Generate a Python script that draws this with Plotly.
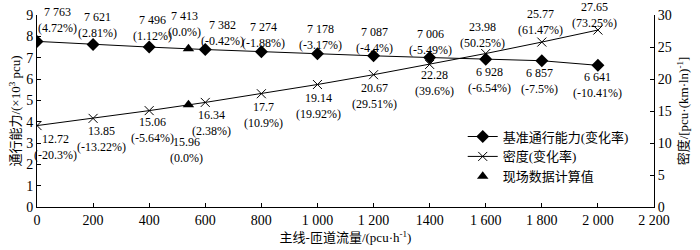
import plotly.graph_objects as go

# ---- data ----
flow = [0, 200, 400, 600, 800, 1000, 1200, 1400, 1600, 1800, 2000]
capacity = [7763, 7621, 7496, 7382, 7274, 7178, 7087, 7006, 6928, 6857, 6641]
capacity_chg = ["4.72%", "2.81%", "1.12%", "-0.42%", "-1.88%", "-3.17%", "-4.4%",
                "-5.49%", "-6.54%", "-7.5%", "-10.41%"]
capacity_txt = ["7 763", "7 621", "7 496", "7 382", "7 274", "7 178", "7 087",
                "7 006", "6 928", "6 857", "6 641"]
density = [12.72, 13.85, 15.06, 16.34, 17.7, 19.14, 20.67, 22.28, 23.98, 25.77, 27.65]
density_chg = ["-20.3%", "-13.22%", "-5.64%", "2.38%", "10.9%", "19.92%", "29.51%",
               "39.6%", "50.25%", "61.47%", "73.25%"]
field_flow = [540]
field_capacity = [7413]
field_capacity_txt = ["7 413"]
field_density = [15.96]
field_chg = ["0.0%"]

x_tickvals = [0, 200, 400, 600, 800, 1000, 1200, 1400, 1600, 1800, 2000, 2200]
x_ticktext = ["0", "200", "400", "600", "800", "1 000", "1 200", "1400", "1 600",
              "1 800", "2 000", "2 200"]

FONT = "Liberation Serif, Times New Roman, Noto Sans CJK SC, serif"
cap_k = [c / 1000 for c in capacity]

fig = go.Figure()
fig.add_trace(go.Scatter(
    x=flow, y=cap_k, mode="lines+markers", name="基准通行能力(变化率)",
    line=dict(color="black", width=1),
    marker=dict(symbol="diamond", size=10, color="black"),
))
fig.add_trace(go.Scatter(
    x=flow, y=density, mode="lines+markers", name="密度(变化率)", yaxis="y2",
    line=dict(color="black", width=1),
    marker=dict(symbol="x-thin", size=9, color="black", line=dict(width=1, color="black")),
))
fig.add_trace(go.Scatter(
    x=field_flow, y=[c / 1000 for c in field_capacity], mode="markers", name="现场数据计算值",
    marker=dict(symbol="triangle-up", size=10, color="black"),
))
fig.add_trace(go.Scatter(
    x=field_flow, y=field_density, mode="markers", yaxis="y2", showlegend=False,
    marker=dict(symbol="triangle-up", size=10, color="black"),
))

ann_font = dict(family=FONT, size=12, color="black")
cap_pos = [(20, 21), (4, 19), (3, 19), (17, 17), (2, 17), (3, 17), (1, 16),
           (1, 16), (4, -21), (-2, -20), (0, -20)]
for i, (xs, ys) in enumerate(cap_pos):
    fig.add_annotation(x=flow[i], y=cap_k[i], xref="x", yref="y",
                       text=f"{capacity_txt[i]}<br>({capacity_chg[i]})",
                       showarrow=False, font=ann_font, xshift=xs, yshift=ys,
                       align="center")
den_pos = [(18, -21), (8, -21), (3, -19), (6, -21), (2, -21), (1, -21), (1, -21),
           (5, -19), (-3, 19), (-1, 20), (-3, 15)]
for i, (xs, ys) in enumerate(den_pos):
    fig.add_annotation(x=flow[i], y=density[i], xref="x", yref="y2",
                       text=f"{density[i]}<br>({density_chg[i]})",
                       showarrow=False, font=ann_font, xshift=xs, yshift=ys,
                       align="center")
fig.add_annotation(x=field_flow[0], y=field_capacity[0] / 1000, xref="x", yref="y",
                   text=f"{field_capacity_txt[0]}<br>({field_chg[0]})", showarrow=False,
                   font=ann_font, xshift=-4, yshift=25)
fig.add_annotation(x=field_flow[0], y=field_density[0], xref="x", yref="y2",
                   text=f"{field_density[0]}<br>({field_chg[0]})", showarrow=False,
                   font=ann_font, xshift=-2, yshift=-45)

axis_common = dict(showline=True, linecolor="black", linewidth=1, ticks="inside",
                   ticklen=4, tickcolor="black", showgrid=False, zeroline=False,
                   automargin=False,
                   tickfont=dict(family=FONT, size=14, color="black"))

fig.update_layout(
    width=700, height=250,
    margin=dict(l=37, r=46, t=15, b=43),
    paper_bgcolor="white", plot_bgcolor="white",
    font=dict(family=FONT, size=13, color="black"),
    showlegend=True,
    legend=dict(x=0.69, y=0.445, xanchor="left", yanchor="top",
                bgcolor="rgba(0,0,0,0)", font=dict(family=FONT, size=13),
                tracegroupgap=0, itemwidth=30),
    xaxis=dict(range=[0, 2200], tickvals=x_tickvals, ticktext=x_ticktext,
               title=dict(text="主线-匝道流量/(pcu·h<sup>-1</sup>)", standoff=6,
                          font=dict(family=FONT, size=13)),
               **axis_common),
    yaxis=dict(range=[0, 9], dtick=1,
               title=dict(text="通行能力/(×10<sup>3</sup> pcu)", standoff=2,
                          font=dict(family=FONT, size=13)),
               **axis_common),
    yaxis2=dict(range=[0, 30], dtick=5, overlaying="y", side="right",
                title=dict(text="密度/[pcu·(km·ln)<sup>-1</sup>]", standoff=8,
                           font=dict(family=FONT, size=13)),
                **axis_common),
)

fig.write_html("out.html", config={"displayModeBar": False},
               post_script="document.body.style.margin='0px';")
